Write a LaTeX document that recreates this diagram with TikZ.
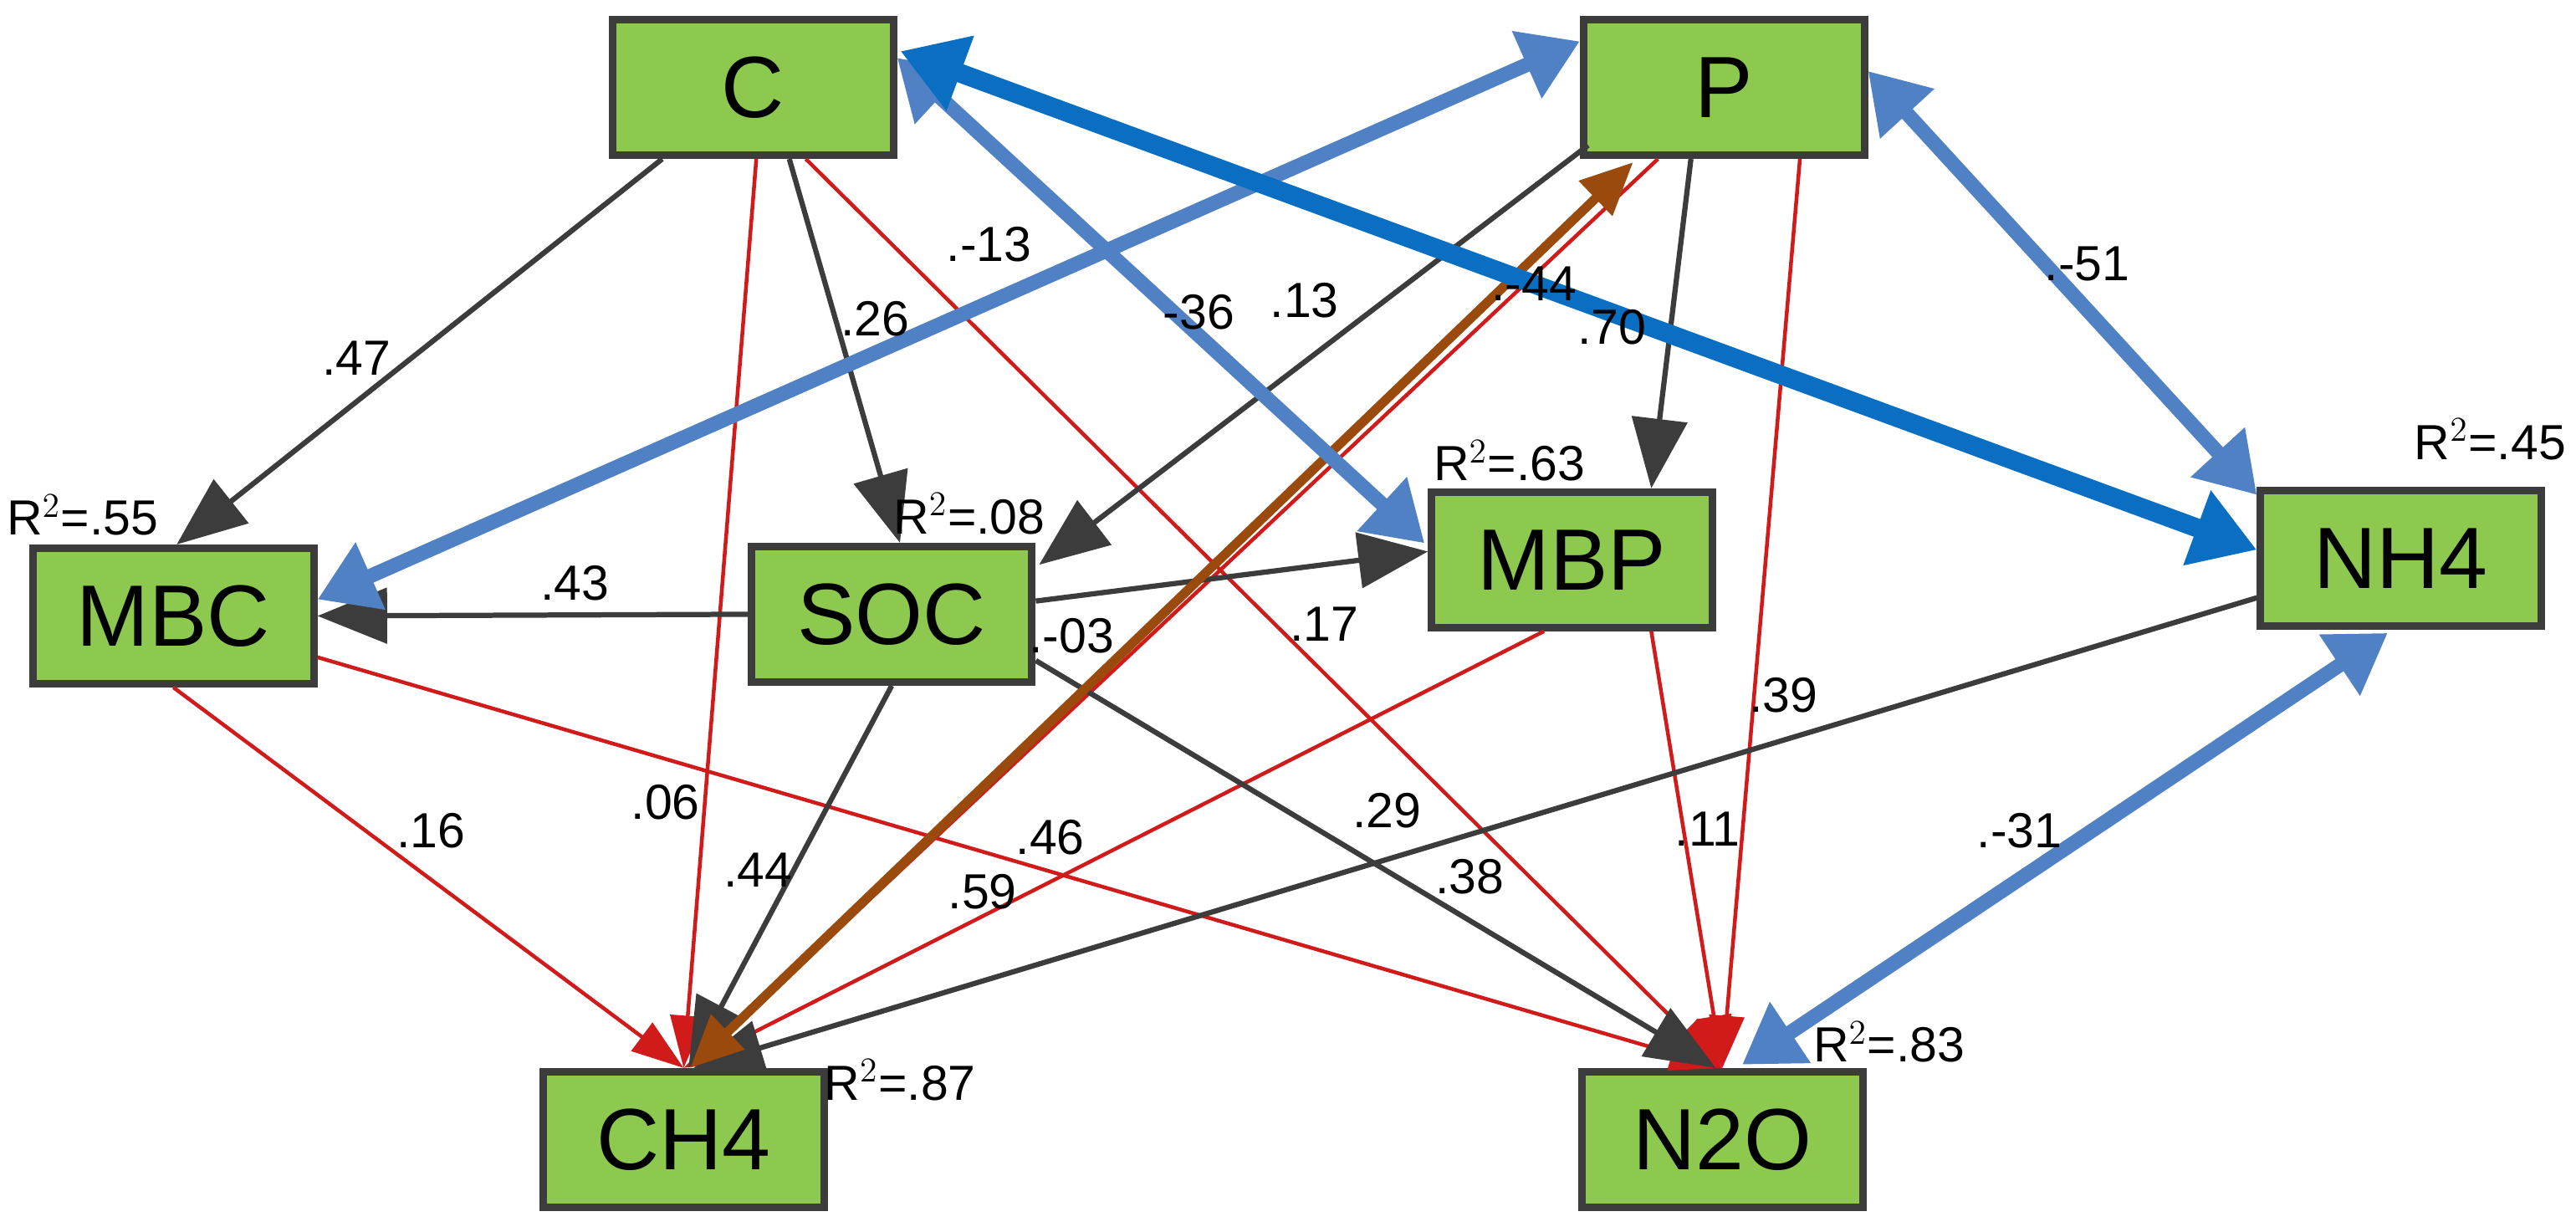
\documentclass[tikz,border=0pt]{standalone}
\usepackage{fontspec}
\setmainfont{Liberation Sans}
\usetikzlibrary{arrows.meta,calc}
\definecolor{boxg}{HTML}{8DC84F}
\definecolor{boxd}{HTML}{6E9E3A}
\definecolor{edge}{HTML}{3C3C3C}
\definecolor{lblue}{HTML}{4F81C4}
\definecolor{dblue}{HTML}{0A6FC2}
\definecolor{brn}{HTML}{9A4A0C}
\definecolor{rd}{HTML}{D11A1A}
\tikzset{
 box/.style={draw=edge,line width=2.6pt,fill=boxg,minimum width=3.4cm,minimum height=1.64cm,
   font=\fontsize{30}{32}\selectfont,
   path picture={\fill[boxd] (path picture bounding box.south west) rectangle ($(path picture bounding box.south east)+(0,0.2)$);}},
 blk/.style={draw=edge,line width=1.8pt,-{Triangle[length=24pt,width=19pt]}},
 red/.style={draw=rd,line width=1.3pt,-{Triangle[length=18pt,width=12pt]}},
 blu/.style={draw=lblue,line width=5pt,{Triangle[length=20pt,width=24pt]}-{Triangle[length=20pt,width=24pt]}},
 dblu/.style={draw=dblue,line width=6.5pt,{Triangle[length=22pt,width=26pt]}-{Triangle[length=22pt,width=26pt]}},
 brw/.style={draw=brn,line width=3.2pt,{Triangle[length=18pt,width=16pt]}-{Triangle[length=18pt,width=16pt]}},
 lab/.style={font=\fontsize{17}{19}\selectfont,inner sep=0pt},
}
\begin{document}
\begin{tikzpicture}[x=0.02cm,y=-0.02cm]
\useasboundingbox (0,0) rectangle (1560,746);
\node[box] (C) at (456,53) {C};
\node[box] (P) at (1044,53) {P};
\node[box] (MBC) at (105,373) {MBC};
\node[box] (SOC) at (540,372) {SOC};
\node[box] (MBP) at (952,339) {MBP};
\node[box] (NH4) at (1454,338) {NH4};
\node[box] (CH4) at (414,690) {CH4};
\node[box] (N2O) at (1043,690) {N2O};
\coordinate (ch) at ($(CH4.north)+(0,0)$);
\coordinate (no) at ($(N2O.north)+(0,0)$);
% red
\draw[red] ($(C.south)+(2,0)$) -- (ch);
\draw[red] ($(C.south)+(32,0)$) -- (no);
\draw[red] ($(MBC.south)+(0,0)$) -- (ch);
\draw[red] ($(MBC.east)+(0,25)$) -- (no);
\draw[red] ($(MBP.south)+(-17,0)$) -- (ch);
\draw[red] ($(MBP.south)+(48,0)$) -- (no);
\draw[red] ($(P.south)+(46,0)$) -- (no);
\draw[red] ($(P.south)+(-40,0)$) -- ($(ch)+(4,0)$);
% black
\draw[blk] ($(C.south)+(-55,0)$) -- ($(MBC.north)+(2,0)$);
\draw[blk] ($(C.south)+(22,0)$) -- ($(SOC.north)+(5,0)$);
\draw[blk] ($(P.west)+(5,35)$) -- ($(SOC.east)+(2,-30)$);
\draw[blk] ($(P.south)+(-20,0)$) -- ($(MBP.north)+(48,0)$);
\draw[blk] (SOC.west) -- (MBC.east);
\draw[blk] ($(SOC.east)+(0,-8)$) -- ($(MBP.west)+(0,-5)$);
\draw[blk] ($(SOC.east)+(0,28)$) -- ($(no)+(-4,0)$);
\draw[blk] (SOC.south) -- ($(ch)+(3,0)$);
\draw[blk] ($(NH4.west)+(0,24)$) -- ($(ch)+(6,0)$);
% brown
\draw[brw] ($(ch)+(4,0)$) -- ($(P.south)+(-55,2)$);
% blue
\draw[blu] ($(P.west)+(0,-28)$) -- ($(MBC.east)+(0,-10)$);
\draw[blu] ($(C.east)+(0,-18)$) -- ($(MBP.west)+(-2,-10)$);
\draw[blu] ($(P.east)+(0,-10)$) -- ($(NH4.north west)+(0,5)$);
\draw[blu] ($(NH4.south)+(-8,2)$) -- ($(no)+(12,-2)$);
\draw[dblu] ($(C.east)+(2,-22)$) -- ($(NH4.west)+(0,-5)$);
% labels
\node[lab] (l1) at (216,217) {.47};
\node[lab] (l2) at (530,193) {.26};
\node[lab] (l3) at (599,148) {.-13};
\node[lab] (l4) at (726,189) {-36};
\node[lab] (l5) at (790,182) {.13};
\node[lab] (l6) at (929,172) {.-44};
\node[lab] (l7) at (976,198) {.70};
\node[lab] (l8) at (1264,160) {.-51};
\node[lab] (l9) at (348,353) {.43};
\node[lab] (l10) at (649,385) {.-03};
\node[lab] (l11) at (802,378) {.17};
\node[lab] (l12) at (1080,421) {.39};
\node[lab] (l13) at (261,503) {.16};
\node[lab] (l14) at (403,486) {.06};
\node[lab] (l15) at (459,527) {.44};
\node[lab] (l16) at (636,507) {.46};
\node[lab] (l17) at (595,540) {.59};
\node[lab] (l18) at (840,491) {.29};
\node[lab] (l19) at (890,531) {.38};
\node[lab] (l20) at (1034,502) {.11};
\node[lab] (l21) at (1223,503) {.-31};
\node[lab] (r1) at (50,312) {R$^2$=.55};
\node[lab] (r2) at (587,311) {R$^2$=.08};
\node[lab] (r3) at (914,279) {R$^2$=.63};
\node[lab] (r4) at (1508,266) {R$^2$=.45};
\node[lab] (r5) at (545,654) {R$^2$=.87};
\node[lab] (r6) at (1144,631) {R$^2$=.83};
\end{tikzpicture}
\end{document}
